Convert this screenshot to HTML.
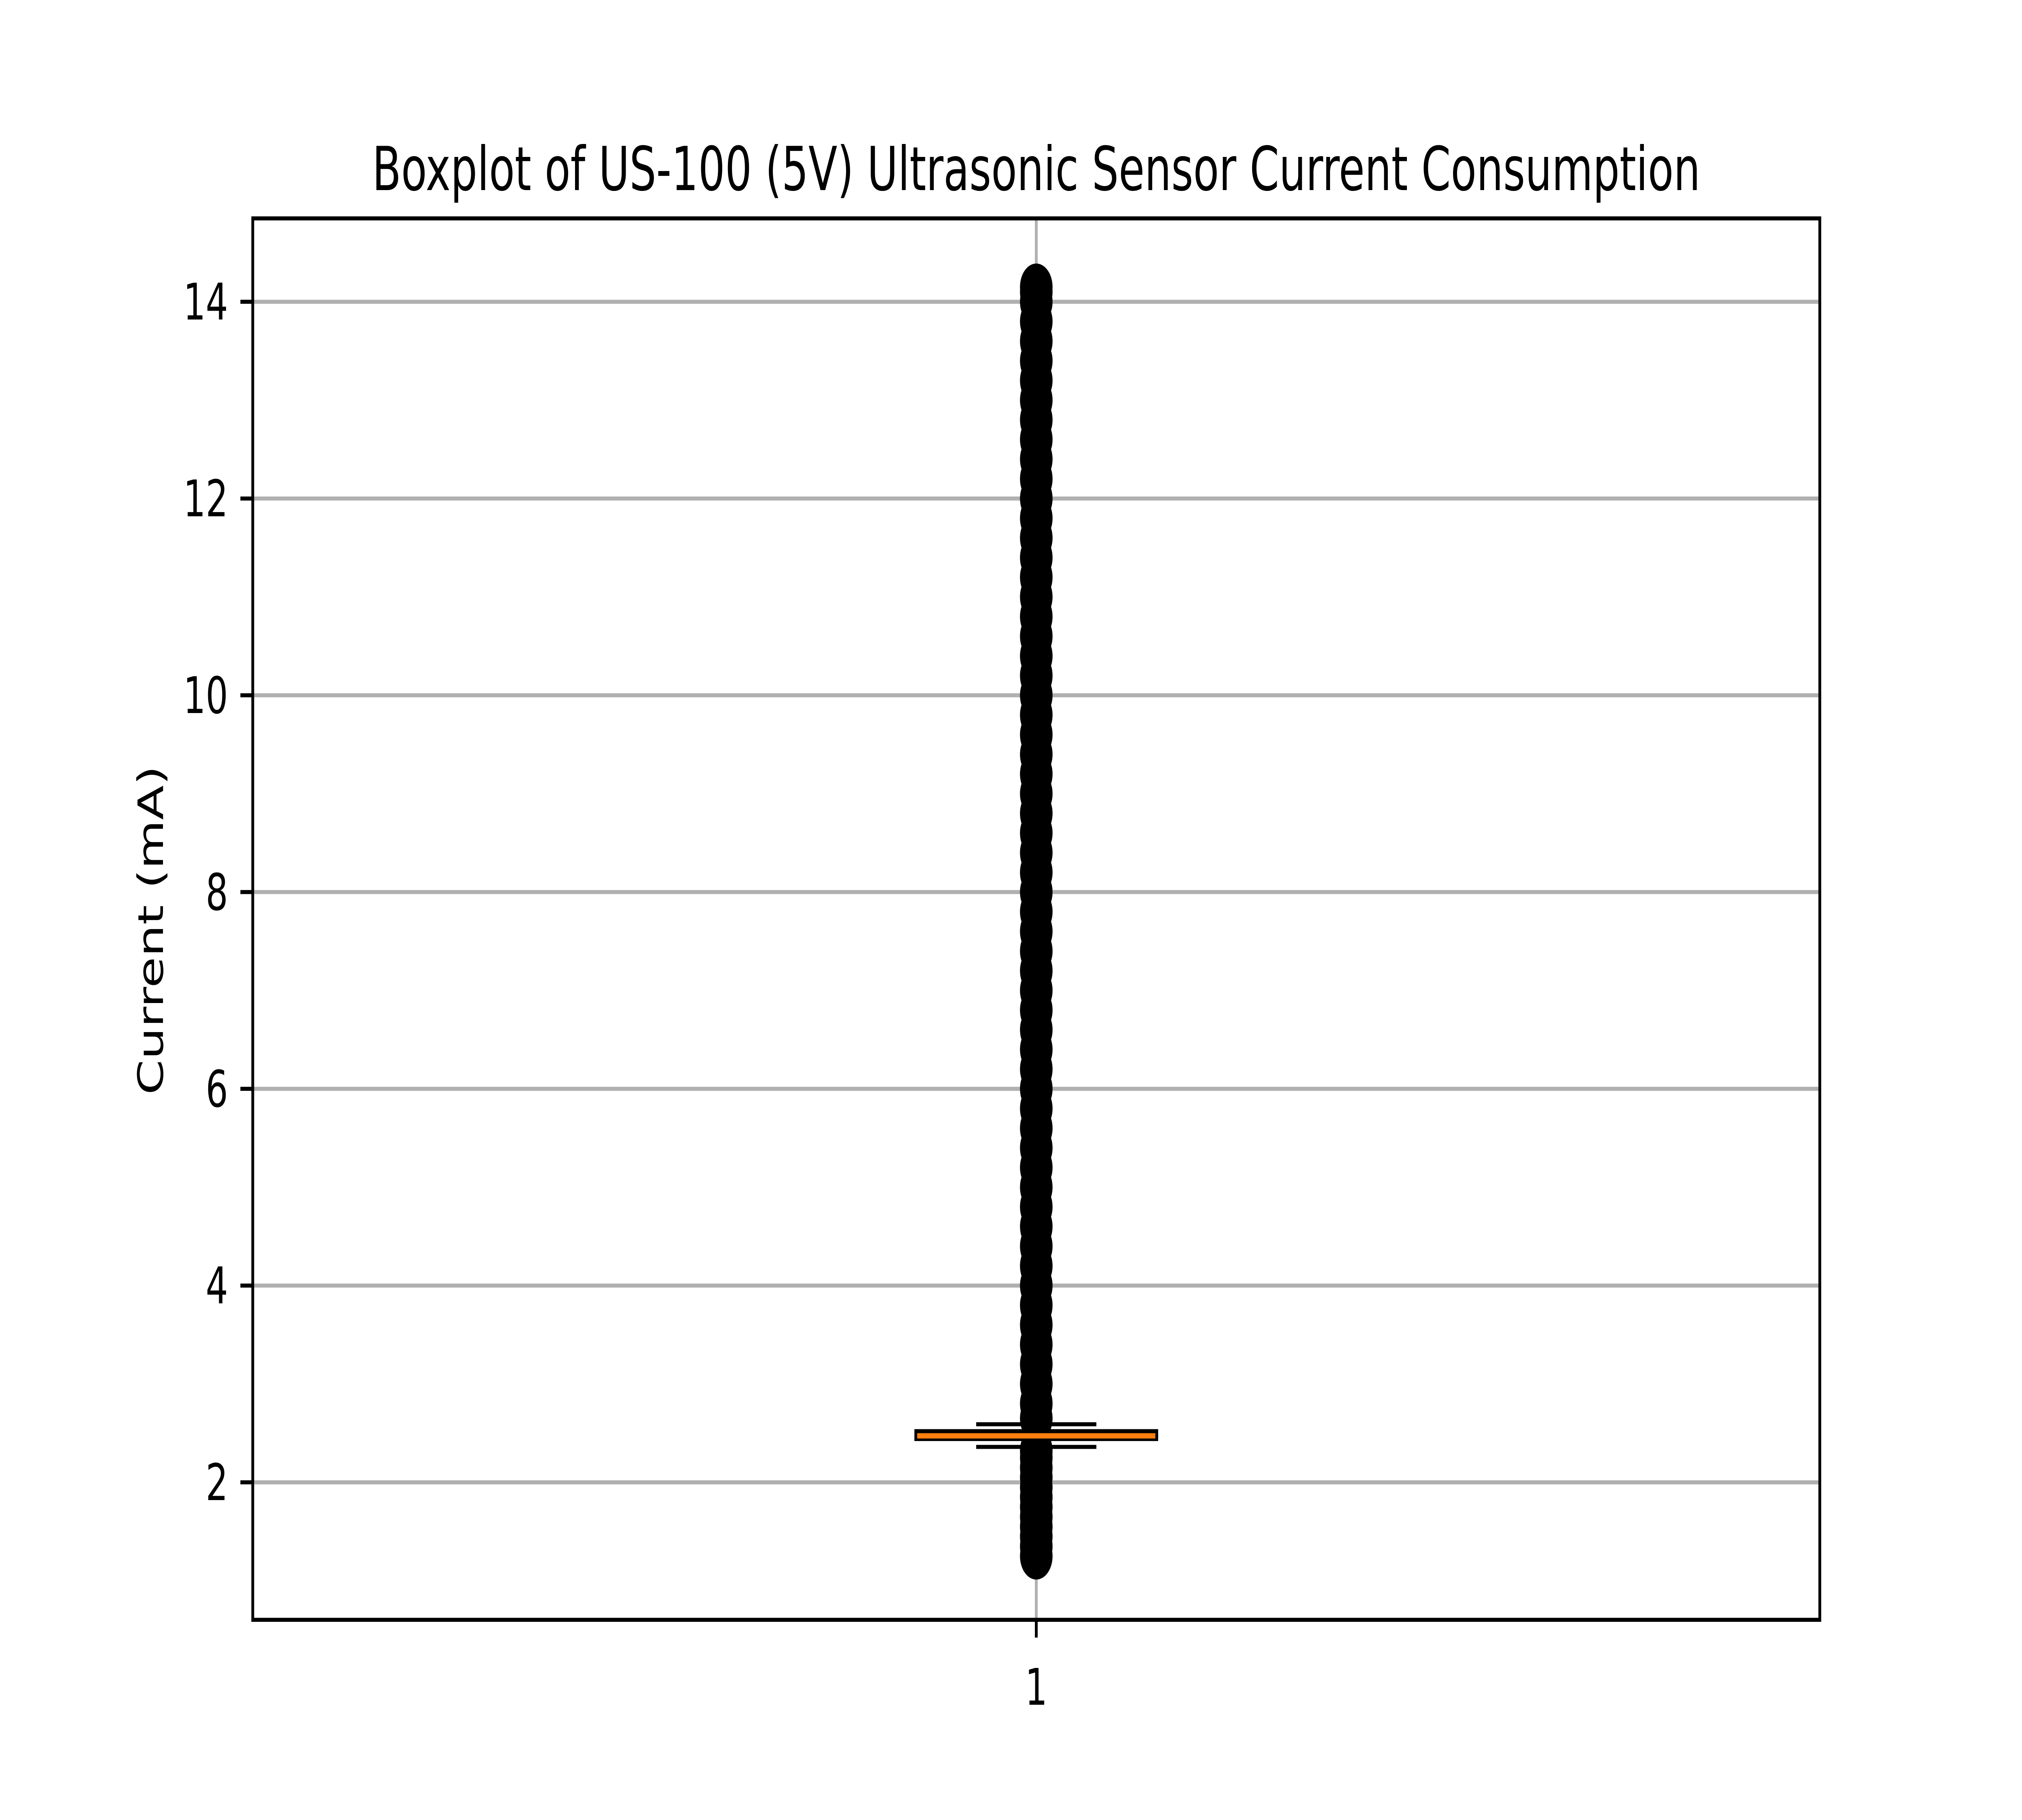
<!DOCTYPE html>
<html><head><meta charset="utf-8"><style>
html,body{margin:0;padding:0;background:#fff;width:100%;height:100%;overflow:hidden;}
svg{display:block;position:absolute;left:0;top:0;width:100vw;height:100vh;}
text{font-family:"DejaVu Sans","Liberation Sans",sans-serif;fill:#000;}
</style></head><body>
<svg id="chart" viewBox="0 0 7200 4500" preserveAspectRatio="none" xmlns="http://www.w3.org/2000/svg">
<rect x="0" y="0" width="7200" height="4500" fill="#fff"/>
<g id="grid"></g>
<g id="marks"></g>
<rect x="900" y="540" width="5580" height="3465" fill="none" stroke="#000" stroke-width="10"/>
<g id="axes"></g>
<text x="3690" y="470" font-size="150" text-anchor="middle">Boxplot of US-100 (5V) Ultrasonic Sensor Current Consumption</text>
<text x="0" y="0" font-size="125" text-anchor="middle" transform="translate(580,2300) rotate(-90)">Current (mA)</text>
</svg>
<script>
const categories = ["1"];
const yTicks = [2, 4, 6, 8, 10, 12, 14];
const yTickLabels = ["2", "4", "6", "8", "10", "12", "14"];
const boxQ1 = [2.44];
const boxMedian = [2.47];
const boxQ3 = [2.52];
const whiskerLow = [2.36];
const whiskerHigh = [2.59];
const fliers = [1.25,1.35,1.45,1.55,1.65,1.75,1.85,1.95,2.05,2.15,2.25,2.32,
 2.65,2.8,3.0,3.2,3.4,3.6,3.8,4.0,4.2,4.4,4.6,4.8,5.0,5.2,5.4,5.6,5.8,6.0,6.2,6.4,6.6,6.8,7.0,
 7.2,7.4,7.6,7.8,8.0,8.2,8.4,8.6,8.8,9.0,9.2,9.4,9.6,9.8,10.0,10.2,10.4,10.6,10.8,11.0,11.2,
 11.4,11.6,11.8,12.0,12.2,12.4,12.6,12.8,13.0,13.2,13.4,13.6,13.8,14.0,14.1,14.15];

const NS = "http://www.w3.org/2000/svg";
const L = 900, R = 6480, T = 540, B = 4005;
const yMin = 0.6025, yMax = 14.8475;
function yPos(v){ return B - (v - yMin) / (yMax - yMin) * (B - T); }
function xPos(i){ return L + (i + 0.5) / categories.length * (R - L); }
function mk(tag, attrs, parent){
  const e = document.createElementNS(NS, tag);
  for (const k in attrs) e.setAttribute(k, attrs[k]);
  parent.appendChild(e);
  return e;
}
const grid = document.getElementById("grid");
const marks = document.getElementById("marks");
const axes = document.getElementById("axes");

yTicks.forEach((v, i) => {
  const y = yPos(v);
  const g = mk("line", {x1: L, x2: R, y1: y, y2: y, stroke: "#b0b0b0", "stroke-width": 10}, grid);
  
  
  const t = mk("line", {x1: L - 44, x2: L, y1: y, y2: y, stroke: "#000", "stroke-width": 10}, axes);
  
  
  const lb = mk("text", {x: L - 88, y: y + 44, "font-size": 125, "text-anchor": "end"}, axes);
  lb.textContent = yTickLabels[i];
  
  
});

categories.forEach((c, i) => {
  const x = xPos(i);
  const vg = mk("line", {x1: x, x2: x, y1: T, y2: B, stroke: "#b0b0b0", "stroke-width": 10}, grid);
  
  
  const t = mk("line", {x1: x, x2: x, y1: B, y2: B + 44, stroke: "#000", "stroke-width": 10}, axes);
  
  
  const lb = mk("text", {x: x, y: B + 210, "font-size": 125, "text-anchor": "middle"}, axes);
  lb.textContent = c;
  
  

  const w1 = mk("line", {x1: x, x2: x, y1: yPos(whiskerLow[i]), y2: yPos(boxQ1[i]), stroke: "#000", "stroke-width": 10}, marks);
  
  
  const w2 = mk("line", {x1: x, x2: x, y1: yPos(whiskerHigh[i]), y2: yPos(boxQ3[i]), stroke: "#000", "stroke-width": 10}, marks);
  
  

  fliers.forEach(v => {
    const f = mk("circle", {cx: x, cy: yPos(v), r: 56, fill: "#000", stroke: "#000", "stroke-width": 4}, marks);
    
    
  });

  const c1 = mk("line", {x1: x - 214, x2: x + 214, y1: yPos(whiskerLow[i]), y2: yPos(whiskerLow[i]), stroke: "#000", "stroke-width": 10}, marks);
  
  
  const c2 = mk("line", {x1: x - 214, x2: x + 214, y1: yPos(whiskerHigh[i]), y2: yPos(whiskerHigh[i]), stroke: "#000", "stroke-width": 10}, marks);
  
  

  const yq3 = yPos(boxQ3[i]), yq1 = yPos(boxQ1[i]);
  const bx = mk("rect", {x: x - 429, y: yq3, width: 858, height: Math.max(yq1 - yq3, 4), fill: "#ff7f0e", stroke: "#000", "stroke-width": 10}, marks);
  
  
  const md = mk("line", {x1: x - 424, x2: x + 424, y1: yPos(boxMedian[i]), y2: yPos(boxMedian[i]), stroke: "#ff7f0e", "stroke-width": 12}, marks);
  
  
});
</script>
</body></html>
